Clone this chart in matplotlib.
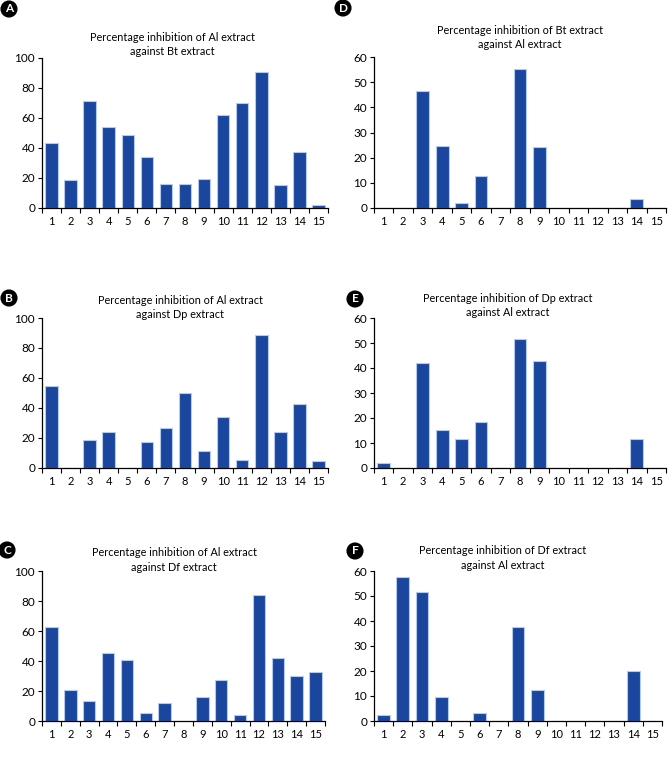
import matplotlib
matplotlib.use("Agg")
import matplotlib.pyplot as plt
import numpy as np

plt.rcParams["font.family"] = ["Lato", "DejaVu Sans"]

samples = list(range(1, 16))

al_vs_bt = [43.5, 18.6, 71.5, 54.2, 48.5, 34.3, 16.2, 16.2, 19.2, 61.7, 69.7, 90.5, 15.5, 37.2, 2.2]
al_vs_dp = [54.5, 0, 18.8, 24.0, 0, 17.2, 26.5, 49.9, 11.5, 34.0, 5.5, 88.7, 24.3, 42.6, 4.9]
al_vs_df = [62.7, 20.8, 13.3, 45.2, 41.0, 5.1, 11.8, 0, 15.7, 27.5, 4.2, 84.0, 41.7, 29.9, 33.0]
bt_vs_al = [0, 0, 46.6, 24.8, 2.1, 12.6, 0, 55.4, 24.4, 0, 0, 0, 0, 3.7, 0]
dp_vs_al = [2.0, 0, 42.2, 15.1, 11.7, 18.5, 0, 51.8, 42.9, 0, 0, 0, 0, 11.6, 0]
df_vs_al = [2.5, 57.5, 51.5, 9.7, 0, 3.1, 0, 37.6, 12.4, 0, 0, 0, 0, 20.0, 0]

panels = [
    # letter, data, title, ymax, ystep, axes rect px (l, t, r, b), title centre px, letter centre px
    ("A", al_vs_bt, "Percentage inhibition of Al extract\nagainst Bt extract", 100, 20,
     (42, 58, 328, 208), (172, 44.5), (9, 9)),
    ("D", bt_vs_al, "Percentage inhibition of Bt extract\nagainst Al extract", 60, 10,
     (374, 57, 666, 208), (520, 37.5), (343, 8)),
    ("B", al_vs_dp, "Percentage inhibition of Al extract\nagainst Dp extract", 100, 20,
     (42, 318, 328, 468), (180, 307.5), (9, 298)),
    ("E", dp_vs_al, "Percentage inhibition of Dp extract\nagainst Al extract", 60, 10,
     (374, 318, 666, 468), (508, 305.5), (355, 299)),
    ("C", al_vs_df, "Percentage inhibition of Al extract\nagainst Df extract", 100, 20,
     (42, 571, 325, 721), (174, 560), (7, 550)),
    ("F", df_vs_al, "Percentage inhibition of Df extract\nagainst Al extract", 60, 10,
     (374, 571, 662, 721), (503, 558), (355, 551)),
]

W, H = 672, 760
fig = plt.figure(figsize=(W / 100, H / 100), dpi=100)

bar_color = "#1a479d"
edge_color = "#b3cbee"

for letter, vals, title, ymax, ystep, rect, tpos, lpos in panels:
    l, t, r, b = rect
    ax = fig.add_axes([l / W, 1 - b / H, (r - l) / W, (b - t) / H])
    ax.bar(samples, vals, width=0.66, color=bar_color, edgecolor=edge_color, linewidth=0.8)
    ax.set_xlim(0.5, 15.5)
    ax.set_ylim(0, ymax)
    ax.set_yticks(np.arange(0, ymax + 1, ystep))
    ax.set_xticks(samples)
    ax.set_xticks(np.arange(0.5, 16, 1), minor=True)
    ax.tick_params(axis="x", which="major", length=0, pad=6, labelsize=8)
    ax.tick_params(axis="x", which="minor", length=3.5, width=0.8, direction="out")
    ax.tick_params(axis="y", length=3, width=0.8, labelsize=8.5, pad=2)
    for s in ("top", "right"):
        ax.spines[s].set_visible(False)
    for s in ("left", "bottom"):
        ax.spines[s].set_linewidth(0.9)
    fig.text(tpos[0] / W, 1 - tpos[1] / H, title, ha="center", va="center",
             fontsize=7.8, linespacing=1.4)
    fig.text(lpos[0] / W, 1 - lpos[1] / H, letter, ha="center", va="center",
             color="white", fontsize=8.5, fontweight="bold",
             bbox=dict(boxstyle="circle,pad=0.2", fc="black", ec="black"))

fig.savefig("out.png", dpi=100)
